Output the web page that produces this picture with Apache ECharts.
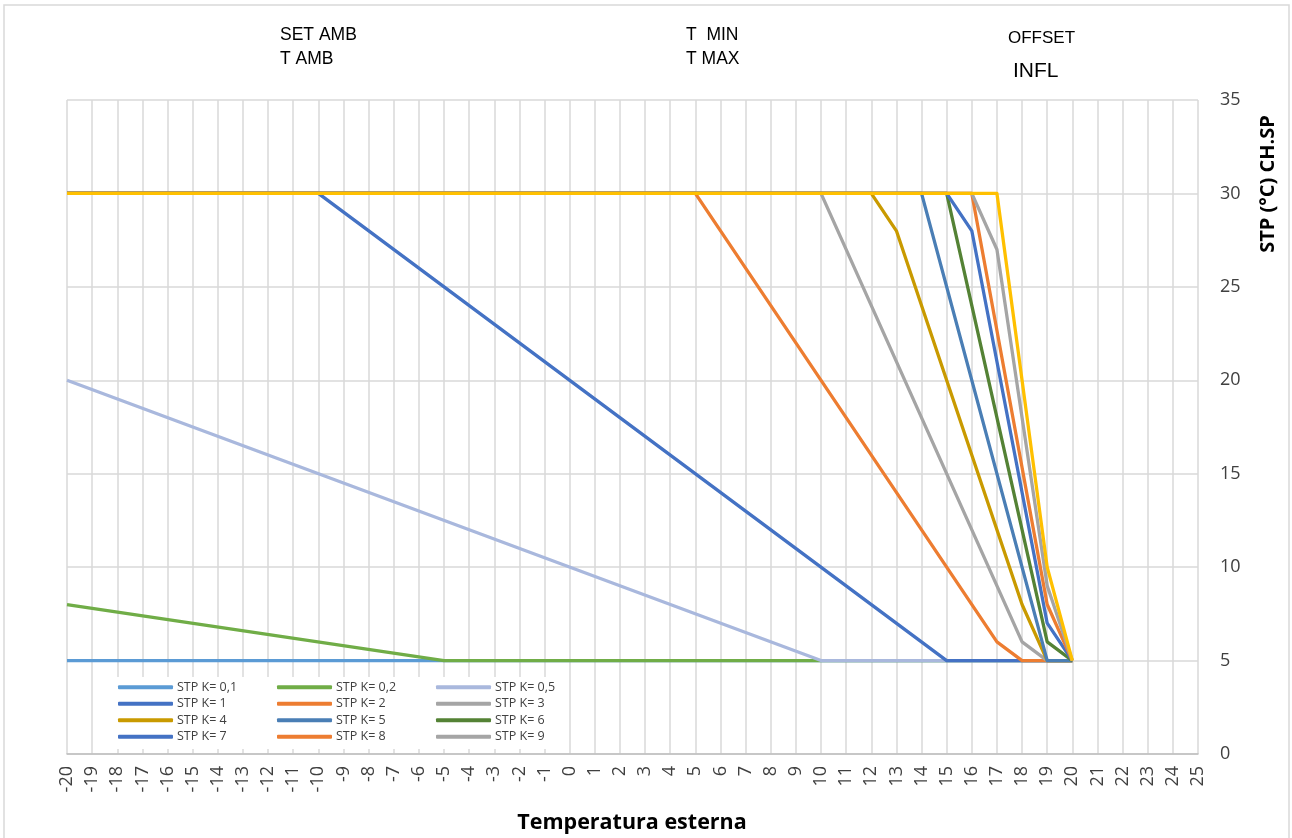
<!DOCTYPE html>
<html>
<head>
<meta charset="utf-8">
<script src="https://cdn.jsdelivr.net/npm/echarts@6/dist/echarts.min.js"></script>
<style>
  html, body { margin: 0; padding: 0; background: #fff; }
  #main { width: 1292px; height: 838px; }
</style>
</head>
<body>
<div id="main"></div>
<script>
// curve breakpoints [temperatura esterna, STP]
var k01 = [[-20, 5], [20, 5]];
var k02 = [[-20, 8], [-5, 5], [20, 5]];
var k05 = [[-20, 20], [10, 5], [20, 5]];
var k1 = [[-20, 30], [-10, 30], [15, 5], [20, 5]];
var k2 = [[-20, 30], [5, 30], [17, 6], [18, 5], [20, 5]];
var k3 = [[-20, 30], [10, 30], [18, 6], [19, 5], [20, 5]];
var k4 = [[-20, 30], [12, 30], [13, 28], [18, 8], [19, 5], [20, 5]];
var k5 = [[-20, 30], [14, 30], [19, 5], [20, 5]];
var k6 = [[-20, 30], [15, 30], [19, 6], [20, 5]];
var k7 = [[-20, 30], [15, 30], [16, 28], [19, 7], [20, 5]];
var k8 = [[-20, 30], [16, 30], [19, 8], [20, 5]];
var k9 = [[-20, 30], [16, 30], [17, 27], [19, 9], [20, 5]];
var k10 = [[-20, 30], [17, 30], [19, 10], [20, 5]];

var seriesNames = ['STP K= 0,1', 'STP K= 0,2', 'STP K= 0,5', 'STP K= 1', 'STP K= 2', 'STP K= 3',
  'STP K= 4', 'STP K= 5', 'STP K= 6', 'STP K= 7', 'STP K= 8', 'STP K= 9', 'STP K= 10'];
var seriesData = [k01, k02, k05, k1, k2, k3, k4, k5, k6, k7, k8, k9, k10];
var colors = ['#5B9BD5', '#70AD47', '#A9B8DD', '#4472C4', '#ED7D31', '#A5A5A5',
  '#C99A00', '#4A7EB5', '#548235', '#4472C4', '#ED7D31', '#A5A5A5', '#FFC000'];

// legend columns (yellow K=10 is not listed)
var legendCols = [
  ['STP K= 0,1', 'STP K= 1', 'STP K= 4', 'STP K= 7'],
  ['STP K= 0,2', 'STP K= 2', 'STP K= 5', 'STP K= 8'],
  ['STP K= 0,5', 'STP K= 3', 'STP K= 6', 'STP K= 9']
];

var chart = echarts.init(document.getElementById('main'));

var series = seriesNames.map(function (n, i) {
  return {
    name: n,
    type: 'line',
    data: seriesData[i],
    showSymbol: false,
    symbol: 'none',
    lineStyle: { width: 3.3, color: colors[i], join: 'round' },
    itemStyle: { color: colors[i] },
    z: 2 + i * 0.01
  };
});

var legendLeft = [118, 277, 436];
var legends = legendCols.map(function (col, i) {
  return {
    data: col,
    orient: 'vertical',
    left: legendLeft[i],
    top: 680,
    padding: 0,
    itemWidth: 55,
    itemHeight: 4,
    itemGap: 2,
    icon: 'roundRect',
    selectedMode: false,
    textStyle: { fontSize: 12.5, lineHeight: 14.5, color: '#404040', fontFamily: 'Open Sans', padding: [0, 0, 0, -1] }
  };
});

var txt = function (s, x, y, size) {
  return {
    type: 'text', x: x, y: y, z: 10,
    style: { text: s, fontSize: size, fontFamily: 'Liberation Sans Narrow, Liberation Sans', fill: '#000', textVerticalAlign: 'middle' }
  };
};

var option = {
  animation: false,
  backgroundColor: '#fff',
  grid: { left: 67, right: 94, top: 100, bottom: 84 },
  legend: legends,
  xAxis: {
    type: 'value',
    min: -20,
    max: 25,
    interval: 1,
    axisLine: { lineStyle: { color: '#bfbfbf', width: 1.5 } },
    axisTick: { show: false },
    splitLine: { show: true, lineStyle: { color: '#d9d9d9', width: 1.5 } },
    axisLabel: { rotate: 90, fontSize: 18, color: '#404040', margin: 12, fontFamily: 'Open Sans' }
  },
  yAxis: {
    type: 'value',
    position: 'right',
    min: 0,
    max: 35,
    interval: 5,
    axisLine: { show: false },
    axisTick: { show: false },
    splitLine: { lineStyle: { color: '#d9d9d9', width: 1.5 } },
    axisLabel: { fontSize: 18, color: '#404040', margin: 22, fontFamily: 'Open Sans' }
  },
  graphic: [
    { type: 'rect', shape: { x: 4, y: 5, width: 1285, height: 845 }, style: { fill: 'none', stroke: '#d9d9d9', lineWidth: 1.5 }, z: 0 },
    { type: 'rect', shape: { x: 97, y: 677, width: 466, height: 72 }, style: { fill: '#fff' }, z: 1 },
    txt('SET AMB', 280, 35, 17.5),
    txt('T AMB', 280, 59, 17.5),
    txt('T  MIN', 686, 35, 17.5),
    txt('T MAX', 686, 59, 17.5),
    txt('OFFSET', 1008, 38, 17),
    txt('INFL', 1013, 71, 21),
    {
      type: 'text', x: 632, y: 823, z: 10,
      style: { text: 'Temperatura esterna', fontSize: 21.5, fontWeight: 'bold', fontFamily: 'Open Sans', fill: '#000', textAlign: 'center', textVerticalAlign: 'middle' }
    },
    {
      type: 'text', x: 1268, y: 184, rotation: Math.PI / 2, z: 10,
      style: { text: 'STP (°C) CH.SP', fontSize: 20, fontWeight: 'bold', fontFamily: 'Open Sans', fill: '#000', textAlign: 'center', textVerticalAlign: 'middle' }
    }
  ],
  series: series
};

chart.setOption(option);
</script>
</body>
</html>
